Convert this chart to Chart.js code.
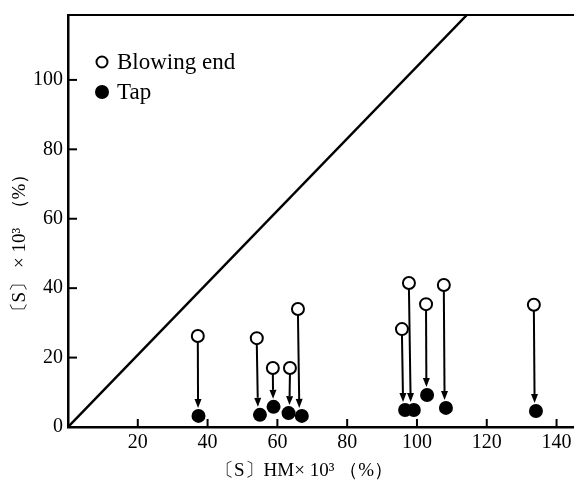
<!DOCTYPE html>
<html>
<head>
<meta charset="utf-8">
<script src="https://cdn.jsdelivr.net/npm/chart.js@4.4.1/dist/chart.umd.min.js"></script>
<style>
  body { margin: 0; background: #fff; overflow: hidden; }
  #clip { width: 574px; height: 482px; overflow: hidden; }
  /* a bit wider than the window: Chart.js keeps room for point radius on the right */
  #wrap { position: relative; width: 582px; height: 482px; }
</style>
</head>
<body>
<div id="clip"><div id="wrap"><canvas id="sChart"></canvas></div></div>
<script>
// blowing end (open circles) and tap (filled circles)
const blowX = [37.2, 54.1, 58.7, 63.6, 65.9, 95.7, 97.7, 102.6, 107.7, 133.5];
const blowY = [26.2, 25.6, 17.0, 17.0, 34.0, 28.2, 41.5, 35.4, 40.9, 35.2];
const tapX = [37.4, 55.0, 58.9, 63.2, 67.0, 96.6, 99.1, 102.9, 108.3, 134.1];
const tapY = [3.2, 3.5, 5.8, 4.0, 3.2, 4.9, 4.9, 9.2, 5.5, 4.6];

// reference line
const lineX = [0, 114.3];
const lineY = [0, 118.7];

const xTicks = [20, 40, 60, 80, 100, 120, 140];
const yTicks = [0, 20, 40, 60, 80, 100];

const legendLabels = ['Blowing end', 'Tap'];
const xTitle = '〔S〕HM× 10³ （%）';
const yTitle = '〔S〕 × 10³  （%）';

const FONT = "'Liberation Serif', 'DejaVu Serif', serif";

const toPts = (xs, ys) => xs.map((x, i) => ({ x: x, y: ys[i] }));

const extras = {
    id: 'extras',
    afterDatasetsDraw(chart) {
        const { ctx, chartArea, scales } = chart;
        const xs = scales.x, ys = scales.y;
        ctx.save();
        ctx.strokeStyle = '#000';
        ctx.fillStyle = '#000';

        // arrows from blowing end down to tap (nearly vertical stems)
        blowX.forEach((bx, i) => {
            const x1 = xs.getPixelForValue(bx), y1 = ys.getPixelForValue(blowY[i]) + 6;
            const x2 = xs.getPixelForValue(bx + 0.35 * (tapX[i] - bx));
            const y2 = ys.getPixelForValue(tapY[i]) - 8;
            const ang = Math.atan2(y2 - y1, x2 - x1);
            const hl = 9, hw = 3.5;
            const bxp = x2 - hl * Math.cos(ang), byp = y2 - hl * Math.sin(ang);
            ctx.lineWidth = 2;
            ctx.beginPath();
            ctx.moveTo(x1, y1);
            ctx.lineTo(bxp, byp);
            ctx.stroke();
            ctx.beginPath();
            ctx.moveTo(x2, y2);
            ctx.lineTo(bxp + hw * Math.sin(ang), byp - hw * Math.cos(ang));
            ctx.lineTo(bxp - hw * Math.sin(ang), byp + hw * Math.cos(ang));
            ctx.closePath();
            ctx.fill();
        });

        // top frame
        ctx.lineWidth = 2;
        ctx.beginPath();
        ctx.moveTo(chartArea.left, chartArea.top);
        ctx.lineTo(chartArea.right, chartArea.top);
        ctx.stroke();

        // inward tick marks
        xTicks.forEach(v => {
            const px = xs.getPixelForValue(v);
            ctx.beginPath();
            ctx.moveTo(px, chartArea.bottom);
            ctx.lineTo(px, chartArea.bottom - 8);
            ctx.stroke();
        });
        yTicks.forEach(v => {
            if (v === 0) return;
            const py = ys.getPixelForValue(v);
            ctx.beginPath();
            ctx.moveTo(chartArea.left, py);
            ctx.lineTo(chartArea.left + 9, py);
            ctx.stroke();
        });

        // legend
        ctx.beginPath();
        ctx.arc(102, 62, 5.5, 0, Math.PI * 2);
        ctx.fillStyle = '#fff';
        ctx.fill();
        ctx.stroke();
        ctx.fillStyle = '#000';
        ctx.beginPath();
        ctx.arc(102, 92, 7, 0, Math.PI * 2);
        ctx.fill();
        ctx.font = '23px ' + FONT;
        ctx.textBaseline = 'middle';
        ctx.textAlign = 'left';
        ctx.fillText(legendLabels[0], 117, 63);
        ctx.fillText(legendLabels[1], 117, 93);

        // axis titles
        ctx.font = '19px ' + FONT;
        ctx.textAlign = 'center';
        ctx.fillText(xTitle, 304, 471);
        ctx.save();
        ctx.translate(20, 243);
        ctx.rotate(-Math.PI / 2);
        ctx.fillText(yTitle, 0, 0);
        ctx.restore();

        ctx.restore();
    }
};

const ctx = document.getElementById('sChart').getContext('2d');

new Chart(ctx, {
    type: 'scatter',
    data: {
        datasets: [
            {
                type: 'line',
                data: toPts(lineX, lineY),
                borderColor: '#000',
                borderWidth: 2.5,
                pointRadius: 0,
                fill: false,
                order: 3
            },
            {
                label: legendLabels[0],
                data: toPts(blowX, blowY),
                pointRadius: 6,
                pointBackgroundColor: '#fff',
                pointBorderColor: '#000',
                pointBorderWidth: 2,
                order: 1
            },
            {
                label: legendLabels[1],
                data: toPts(tapX, tapY),
                pointRadius: 7,
                pointBackgroundColor: '#000',
                pointBorderColor: '#000',
                pointBorderWidth: 0,
                order: 2
            }
        ]
    },
    options: {
        responsive: true,
        maintainAspectRatio: false,
        animation: false,
        layout: { padding: { top: 15, right: 1, left: 0, bottom: 0 } },
        plugins: {
            legend: { display: false },
            tooltip: { enabled: false }
        },
        scales: {
            x: {
                type: 'linear',
                min: 0,
                max: 145,
                afterBuildTicks: s => { s.ticks = xTicks.map(v => ({ value: v })); },
                afterFit: s => { s.height = 55; s.paddingLeft = 0; s.paddingRight = 0; },
                grid: { display: false, drawTicks: false },
                border: { display: true, color: '#000', width: 2.5 },
                ticks: { color: '#000', padding: 4, font: { family: FONT, size: 20 } }
            },
            y: {
                type: 'linear',
                min: 0,
                max: 118.7,
                afterBuildTicks: s => { s.ticks = yTicks.map(v => ({ value: v })); },
                afterFit: s => { s.width = 68; s.paddingTop = 0; s.paddingBottom = 0; },
                grid: { display: false, drawTicks: false },
                border: { display: true, color: '#000', width: 2.5 },
                ticks: { color: '#000', padding: 5, font: { family: FONT, size: 20 } }
            }
        }
    },
    plugins: [extras]
});
</script>
</body>
</html>
